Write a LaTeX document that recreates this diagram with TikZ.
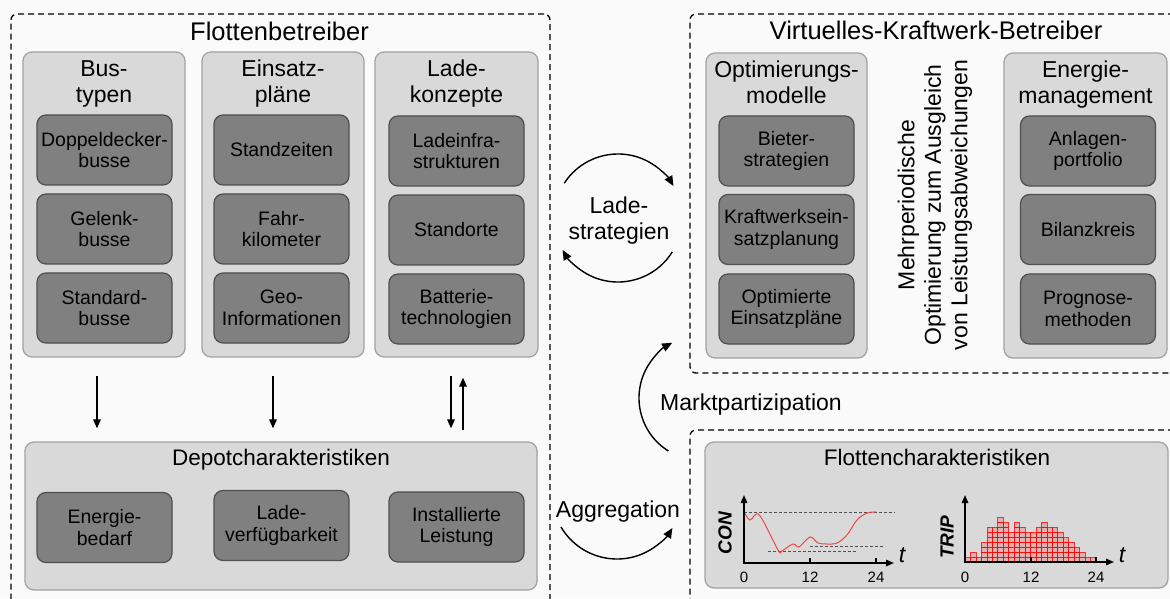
\documentclass[tikz,border=0pt]{standalone}
\usepackage{fontspec}
\setmainfont{Liberation Sans}
\usetikzlibrary{arrows.meta,calc}

\definecolor{paper}{HTML}{FAFAFA}
\definecolor{panelfill}{HTML}{D9D9D9}
\definecolor{panelline}{HTML}{A3A3A3}
\definecolor{tilefill}{HTML}{808080}
\definecolor{tileline}{HTML}{4F4F4F}
\definecolor{guidegray}{HTML}{505050}
\definecolor{curvered}{HTML}{F04848}

\newcommand\dgTitle{\fontsize{25.5}{29}\selectfont}
\newcommand\dgHead{\fontsize{22.5}{26}\selectfont}
\newcommand\dgSub{\fontsize{23}{26.5}\selectfont}
\newcommand\dgTile{\fontsize{19.5}{21.5}\selectfont}
\newcommand\dgTick{\fontsize{15}{17}\selectfont}
\newcommand\dgAxis{\fontsize{19}{21}\selectfont\bfseries\itshape}
\newcommand\dgVar{\fontsize{23}{26}\selectfont\itshape}

\tikzset{
  dashbox/.style={draw=black, line width=1.3pt, dash pattern=on 6pt off 4pt,
    rounded corners=6pt, fill=paper, inner sep=0pt},
  panel/.style={draw=panelline, line width=1.3pt, fill=panelfill,
    rounded corners=9pt, inner sep=0pt},
  tile/.style={draw=tileline, line width=1.2pt, fill=tilefill, rounded corners=9pt,
    minimum width=135pt, minimum height=70pt, align=center, font=\dgTile, inner sep=2pt},
  heading/.style={font=\dgTitle, anchor=base, inner sep=0pt},
  subheading/.style={font=\dgHead, anchor=base, inner sep=0pt},
  colhead/.style={font=\dgSub, align=center, anchor=north, inner sep=0pt},
  flow/.style={line width=1.6pt, -{Triangle[length=9pt,width=7.5pt]}},
  cyclearrow/.style={line width=1.4pt, -{Triangle[length=10pt,width=8.5pt]}},
  axisline/.style={line width=1.5pt, -{Triangle[length=8pt,width=6.5pt]}},
  tickmark/.style={line width=1.2pt},
  guide/.style={draw=guidegray, line width=0.8pt, dash pattern=on 3pt off 2pt},
  cell/.style={draw=red, draw opacity=0.75, fill=red, fill opacity=0.18, line width=0.6pt},
}

\begin{document}
\begin{tikzpicture}[x=1pt,y=1pt]
\useasboundingbox (0,0) rectangle (1170,598);
\clip (0,0) rectangle (1170,598);
\fill[paper] (0,0) rectangle (1170,598);

% ---------- outer dashed frames ----------
\node[dashbox, minimum width=539pt, minimum height=606pt] (fleet) at (280.5,281) {};
\node[dashbox, minimum width=500pt, minimum height=359pt] (vpp) at (940,404.5) {};
\node[dashbox, minimum width=500pt, minimum height=190pt] (fcframe) at (940,73) {};

\node[heading] (fleetT) at (279.5,557) {Flottenbetreiber};
\node[heading] (vppT) at (936,558) {Virtuelles-Kraftwerk-Betreiber};

% ---------- fleet operator columns ----------
\node[panel, minimum width=162pt, minimum height=305pt] (bus) at (104,393.5) {};
\node[panel, minimum width=162pt, minimum height=305pt] (plan) at (283,393.5) {};
\node[panel, minimum width=163pt, minimum height=305pt] (charge) at (456.5,393.5) {};

\node[colhead] (busT) at (104,540.5) {\strut Bus-\\typen};
\node[colhead] (planT) at (283,540.5) {\strut Einsatz-\\pläne};
\node[colhead] (chargeT) at (456.5,540.5) {\strut Lade-\\konzepte};

\node[tile] (dd) at (104.5,448) {Doppeldecker-\\busse};
\node[tile] (gl) at (104.5,369) {Gelenk-\\busse};
\node[tile] (st) at (104.5,290) {Standard-\\busse};

\node[tile] (sz) at (281.5,448) {Standzeiten};
\node[tile] (fk) at (281.5,369) {Fahr-\\kilometer};
\node[tile] (geo) at (281.5,290) {Geo-\\Informationen};

\node[tile] (li) at (456.5,447) {Ladeinfra-\\strukturen};
\node[tile] (so) at (456.5,368) {Standorte};
\node[tile] (bt) at (456.5,289) {Batterie-\\technologien};

% ---------- depot ----------
\node[panel, minimum width=512pt, minimum height=148pt] (depot) at (281,82) {};
\node[subheading] (depotT) at (281,133) {Depotcharakteristiken};
\node[tile] (eb) at (104.5,70.5) {Energie-\\bedarf};
\node[tile] (lv) at (281.5,72.5) {Lade-\\verfügbarkeit};
\node[tile] (il) at (456.5,71) {Installierte\\Leistung};

\draw[flow] ($(bus.south)+(-7,-18)$) -- ($(bus.south |- depot.north)+(-7,13)$);
\draw[flow] ($(plan.south)+(-10,-18)$) -- ($(plan.south |- depot.north)+(-10,13)$);
\draw[flow] ($(charge.south)+(-5.5,-18)$) -- ($(charge.south |- depot.north)+(-5.5,13)$);
\draw[flow] ($(charge.south |- depot.north)+(6.5,11)$) -- ($(charge.south)+(6.5,-20)$);

% ---------- virtual power plant operator ----------
\node[panel, minimum width=161pt, minimum height=305pt] (opt) at (786.5,392.5) {};
\node[panel, minimum width=163pt, minimum height=305pt] (em) at (1085.5,392.5) {};
\node[colhead] (optT) at (786.5,539.5) {\strut Optimierungs-\\modelle};
\node[colhead] (emT) at (1085.5,539.5) {\strut Energie-\\management};

\node[tile] (bs) at (786.5,447) {Bieter-\\strategien};
\node[tile] (ke) at (786.5,368.5) {Kraftwerksein-\\satzplanung};
\node[tile] (oe) at (786.5,289) {Optimierte\\Einsatzpläne};

\node[tile] (ap) at (1088,447) {Anlagen-\\portfolio};
\node[tile] (bk) at (1088,368.5) {Bilanzkreis};
\node[tile] (pm) at (1088,289) {Prognose-\\methoden};

\node[font=\dgSub, align=center, rotate=90, inner sep=0pt] (mpo) at (935,393)
  {Mehrperiodische\\Optimierung zum Ausgleich\\von Leistungsabweichungen};

% ---------- exchange between the operators ----------
\node[colhead] (ls) at (619,403.5) {\strut Lade-\\strategien};
\coordinate (lsC) at (618,380);
\draw[cyclearrow] ([shift={(147:64)}]lsC) arc[start angle=147, end angle=30, radius=64];
\draw[cyclearrow] ([shift={(-32:64)}]lsC) arc[start angle=-32, end angle=-150, radius=64];

\node[font=\dgSub, anchor=base, inner sep=0pt] (mp) at (751,188) {Marktpartizipation};
\coordinate (mpC) at (701.5,200);
\draw[cyclearrow] ([shift={(238:62.5)}]mpC) arc[start angle=238, end angle=118, radius=62.5];

\node[font=\dgSub, anchor=base, inner sep=0pt] (ag) at (618,81) {Aggregation};
\coordinate (agC) at (617,104);
\draw[cyclearrow] ([shift={(210.5:65)}]agC) arc[start angle=210.5, end angle=328.5, radius=65];

% ---------- fleet characteristics ----------
\node[panel, minimum width=463pt, minimum height=146pt] (fc) at (936.5,83) {};
\node[subheading] (fcT) at (937,133) {Flottencharakteristiken};

% state of charge over the day
\begin{scope}[shift={(744,35)}]
  \draw[guide] (0,51) -- (151,51);
  \draw[guide] (24,12) -- (113,12);
  \draw[guide] (66,17) -- (141,17);
  \draw[curvered, line width=1pt] plot[smooth, tension=0.55] coordinates {
    (0,51.5) (6,43) (15.3,48) (34,13) (37.7,12) (49,19) (55,16) (66,26)
    (74,20) (83,19) (93,20) (103,28) (113,43) (123,50) (132,51)};
  \draw[axisline] (0,-1) -- (0,68);
  \draw[axisline] (-1,0) -- (150,0);
  \draw[tickmark] (66,0) -- (66,5);
  \draw[tickmark] (132,0) -- (132,5);
  \node[font=\dgTick] at (0,-14) {0};
  \node[font=\dgTick] at (66,-14) {12};
  \node[font=\dgTick] at (132,-14) {24};
  \node[font=\dgVar] at (158,8) {t};
  \node[font=\dgAxis, rotate=90] at (-19,30) {CON};
\end{scope}

% trips per hour
\begin{scope}[shift={(965,36)}]
  \foreach \h [count=\i from 0] in {1,2,1,4,7,7,9,8,6,8,7,6,6,7,8,7,7,6,5,4,3,2,1,1}{
    \foreach \j in {1,...,\h}{
      \draw[cell] ({\i*5.458},{(\j-1)*5}) rectangle ++(5.458,5);
    }
  }
  \draw[axisline] (0,-1) -- (0,67);
  \draw[axisline] (-1,0) -- (149,0);
  \draw[tickmark] (66,0) -- (66,5);
  \draw[tickmark] (131,0) -- (131,5);
  \node[font=\dgTick] at (0,-15) {0};
  \node[font=\dgTick] at (66,-15) {12};
  \node[font=\dgTick] at (131,-15) {24};
  \node[font=\dgVar] at (157,7) {t};
  \node[font=\dgAxis, rotate=90] at (-18,25) {TRIP};
\end{scope}
\end{tikzpicture}
\end{document}
